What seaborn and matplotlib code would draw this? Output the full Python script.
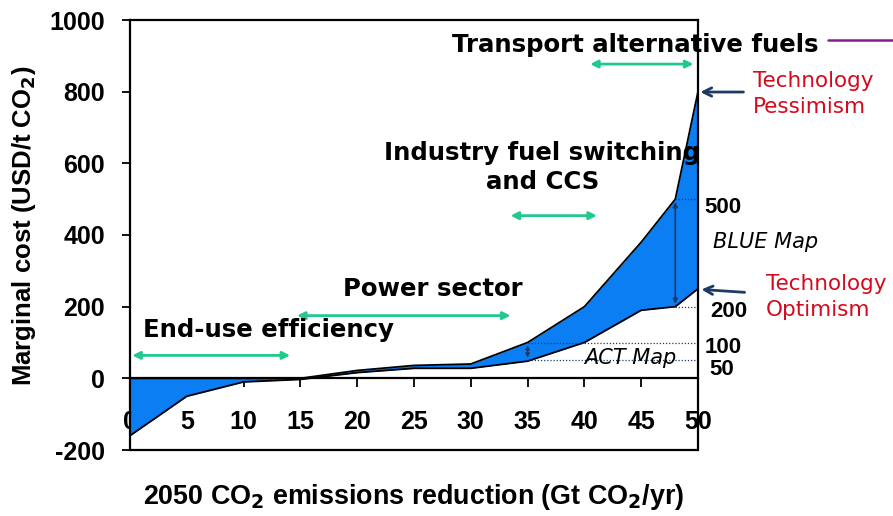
import matplotlib
matplotlib.use("Agg")
import matplotlib.pyplot as plt
from matplotlib.lines import Line2D
import seaborn as sns
import pandas as pd

# ---- data ----
reduction = [0, 5, 10, 15, 20, 25, 30, 35, 40, 45, 48, 50]
cost_optimism = [-160, -50, -10, -3, 16, 28, 28, 48, 100, 190, 200, 250]
cost_pessimism = [0, 0, 0, 0, 22, 36, 40, 100, 200, 380, 500, 800]
x_ticks = [0, 5, 10, 15, 20, 25, 30, 35, 40, 45, 50]
y_ticks = [-200, 0, 200, 400, 600, 800, 1000]

sectors = ["End-use efficiency", "Power sector", "Industry fuel switching\nand CCS",
           "Transport alternative fuels"]
sector_ranges = [(0.2, 14.1), (14.7, 33.5), (33.5, 41.1), (40.5, 49.6)]
sector_arrow_y = [64, 175, 454, 877]
sector_text_pos = [(12.2, 134), (26.7, 250), (36.3, 588), (44.5, 930)]

act_range = (50, 100)      # ACT Map at 35 Gt
blue_range = (200, 500)    # BLUE Map at 48 Gt
act_x = 35
blue_x = 48

df = pd.DataFrame({"x": reduction, "low": cost_optimism, "high": cost_pessimism})

sns.set_style("white")
plt.rcParams["font.family"] = ["Liberation Sans", "DejaVu Sans"]
plt.rcParams["axes.unicode_minus"] = False
plt.rcParams["text.color"] = "black"
plt.rcParams["axes.labelcolor"] = "black"
plt.rcParams["xtick.color"] = "black"
plt.rcParams["ytick.color"] = "black"
plt.rcParams["mathtext.default"] = "bf"

fig = plt.figure(figsize=(8.93, 5.16), dpi=100)
ax = fig.add_axes([130 / 893, 1 - 450 / 516, (698 - 130) / 893, (450 - 20) / 516])

fill_col = "#0b7ef4"
ax.fill_between(df["x"], df["low"], df["high"], color=fill_col, lw=0, zorder=2)
sns.lineplot(data=df, x="x", y="low", color="black", lw=1.3, ax=ax, zorder=3)
sns.lineplot(data=df, x="x", y="high", color="black", lw=1.3, ax=ax, zorder=3)

ax.set_xlim(0, 50)
ax.set_ylim(-200, 1000)

# spines: x axis at zero, full box
ax.spines["bottom"].set_position(("data", 0))
for s in ["left", "right", "top", "bottom"]:
    ax.spines[s].set_visible(True)
    ax.spines[s].set_color("black")
    ax.spines[s].set_linewidth(1.6)
    ax.spines[s].set_zorder(5)
ax.axhline(-200, color="black", lw=1.6, clip_on=False, zorder=5)

ax.set_xticks(x_ticks)
ax.set_yticks(y_ticks)
ax.tick_params(axis="x", direction="out", length=6.5, width=1.3, pad=16,
               labelsize=18, bottom=True)
ax.tick_params(axis="y", direction="out", length=6, width=1.3, pad=12,
               labelsize=18, left=True)
for lab in ax.get_xticklabels() + ax.get_yticklabels():
    lab.set_fontweight("bold")

ax.set_ylabel("Marginal cost (USD/t CO$_2$)", fontsize=18.5, fontweight="bold")
ax.yaxis.set_label_coords((38 - 130) / 568, (450 - 226) / 430)
ax.set_xlabel("")
fig.text(0.463, 1 - 497 / 516, "2050 CO$_2$ emissions reduction (Gt CO$_2$/yr)",
         ha="center", va="center", fontsize=19.4, fontweight="bold")

# dotted reference lines
navy = "#1d3a66"
ax.hlines([act_range[0], act_range[1]], act_x, 50, colors=navy, linestyles=(0, (1, 1.5)), lw=0.9, zorder=4)
ax.hlines([blue_range[0], blue_range[1]], blue_x, 50, colors=navy, linestyles=(0, (1, 1.5)), lw=0.9, zorder=4)
ax.annotate("", xy=(act_x, act_range[0]), xytext=(act_x, act_range[1]),
            arrowprops=dict(arrowstyle="<|-|>", color=navy, lw=1.0, mutation_scale=6), zorder=4)
ax.annotate("", xy=(blue_x, blue_range[0]), xytext=(blue_x, blue_range[1]),
            arrowprops=dict(arrowstyle="<|-|>", color=navy, lw=1.2, mutation_scale=7), zorder=4)

# sector arrows and labels
green = "#22c98c"
for (x0, x1), ya in zip(sector_ranges, sector_arrow_y):
    ax.annotate("", xy=(x0, ya), xytext=(x1, ya),
                arrowprops=dict(arrowstyle="<|-|>", color=green, lw=2.0, mutation_scale=11,
                                shrinkA=0, shrinkB=0), annotation_clip=False)
for name, (tx, ty) in zip(sectors, sector_text_pos):
    ax.text(tx, ty, name, ha="center", va="center", fontsize=17.6, fontweight="bold",
            family="DejaVu Sans", linespacing=1.3, zorder=6, clip_on=False)

# right-hand labels
ax.text(50.6, 476, "500", ha="left", va="center", fontsize=16, fontweight="bold", clip_on=False)
ax.text(51.3, 380, "BLUE Map", ha="left", va="center", fontsize=15, style="italic",
        family="DejaVu Sans", clip_on=False)
ax.text(51.1, 187, "200", ha="left", va="center", fontsize=16, fontweight="bold", clip_on=False)
ax.text(50.6, 86, "100", ha="left", va="center", fontsize=16, fontweight="bold", clip_on=False)
ax.text(51.0, 25, "50", ha="left", va="center", fontsize=16, fontweight="bold", clip_on=False)
ax.text(44.0, 56, "ACT Map", ha="center", va="center", fontsize=15, style="italic",
        family="DejaVu Sans", zorder=6)

red = "#d40a1e"
ax.text(54.8, 794, "Technology\nPessimism", ha="left", va="center", fontsize=15.5,
        color=red, family="DejaVu Sans", linespacing=1.4, clip_on=False)
ax.text(56.0, 227, "Technology\nOptimism", ha="left", va="center", fontsize=15.5,
        color=red, family="DejaVu Sans", linespacing=1.4, clip_on=False)
ax.annotate("", xy=(50.2, 799), xytext=(54.0, 799),
            arrowprops=dict(arrowstyle="->", color=navy, lw=2.0, mutation_scale=15,
                            shrinkA=0, shrinkB=0), annotation_clip=False)
ax.annotate("", xy=(50.3, 248), xytext=(54.1, 240),
            arrowprops=dict(arrowstyle="->", color=navy, lw=2.0, mutation_scale=15,
                            shrinkA=0, shrinkB=0), annotation_clip=False)

fig.add_artist(Line2D([828 / 893, 1.0], [1 - 40 / 516, 1 - 40 / 516],
                      color="#8a1a8c", lw=1.8, transform=fig.transFigure))

fig.savefig("out.png", dpi=100)
